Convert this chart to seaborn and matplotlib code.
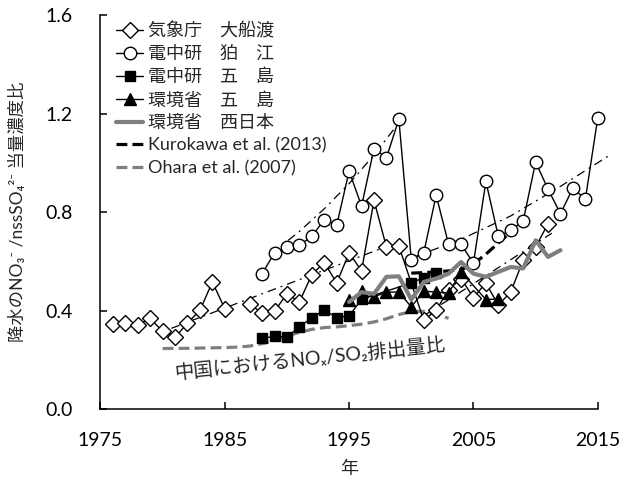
import numpy as np
import pandas as pd
import matplotlib
matplotlib.use("Agg")
import matplotlib.pyplot as plt
import seaborn as sns
from matplotlib.lines import Line2D

sns.set_theme(style="ticks")
plt.rcParams['font.family'] = ['Lato', 'Noto Sans CJK JP', 'DejaVu Sans']

# ---- observations -------------------------------------------------------
# 気象庁 大船渡 (no data for 1986 and 2000)
ofunato_years = [1976, 1977, 1978, 1979, 1980, 1981, 1982, 1983, 1984, 1985,
                 1987, 1988, 1989, 1990, 1991, 1992, 1993, 1994, 1995, 1996,
                 1997, 1998, 1999, 2001, 2002, 2003, 2004, 2005, 2006, 2007,
                 2008, 2009, 2010, 2011]
ofunato_vals = [0.346, 0.351, 0.342, 0.369, 0.317, 0.292, 0.351, 0.402, 0.517, 0.409,
                0.426, 0.392, 0.398, 0.470, 0.436, 0.547, 0.596, 0.513, 0.635, 0.562,
                0.848, 0.659, 0.663, 0.362, 0.402, 0.486, 0.531, 0.454, 0.513, 0.423,
                0.477, 0.605, 0.659, 0.754]
ofunato_seg = [0] * 10 + [1] * 24

# 電中研 狛江
komae_years = list(range(1988, 2016))
komae_vals = [0.551, 0.635, 0.659, 0.666, 0.702, 0.770, 0.747, 0.967, 0.825, 1.058,
              1.021, 1.177, 0.608, 0.635, 0.869, 0.670, 0.670, 0.594, 0.925, 0.702,
              0.727, 0.764, 1.004, 0.893, 0.794, 0.898, 0.852, 1.184]

# 電中研 五島
goto_criepi_years = [1988, 1989, 1990, 1991, 1992, 1993, 1994, 1995, 1996, 2000, 2001, 2002]
goto_criepi_vals = [0.288, 0.297, 0.294, 0.335, 0.372, 0.403, 0.373, 0.379, 0.447,
                    0.513, 0.535, 0.552]

# 環境省 五島
goto_moe_years = [1995, 1996, 1997, 1998, 1999, 2000, 2001, 2002, 2003, 2004, 2006, 2007]
goto_moe_vals = [0.443, 0.480, 0.457, 0.476, 0.476, 0.416, 0.480, 0.476, 0.472, 0.558,
                 0.446, 0.448]

# 環境省 西日本
west_years = list(range(1995, 2013))
west_vals = [0.436, 0.476, 0.469, 0.538, 0.540, 0.446, 0.517, 0.531, 0.551, 0.598,
             0.551, 0.538, 0.558, 0.578, 0.572, 0.686, 0.619, 0.646]

# 中国の NOx/SO2 排出量比
kurokawa_years = [2000, 2001, 2002, 2003, 2004, 2005, 2006, 2007, 2008]
kurokawa_vals = [0.553, 0.555, 0.558, 0.562, 0.567, 0.590, 0.630, 0.675, 0.720]

ohara_years = list(range(1980, 2004))
ohara_vals = [0.247, 0.248, 0.248, 0.249, 0.250, 0.251, 0.253, 0.257, 0.267, 0.280,
              0.298, 0.313, 0.325, 0.332, 0.335, 0.340, 0.346, 0.355, 0.368, 0.385,
              0.397, 0.398, 0.385, 0.370]

# ---- trend lines ---------------------------------------------------------
trend_komae1_years = [1988.8, 1991, 1993, 1995, 1997, 1999]
trend_komae1_vals = [0.634, 0.722, 0.814, 0.916, 1.032, 1.163]
trend_komae2_years = [2000, 2004, 2008, 2012, 2016.1]
trend_komae2_vals = [0.614, 0.690, 0.785, 0.905, 1.036]
trend_ofunato1_years = [1980.7, 1999]
trend_ofunato1_vals = [0.329, 0.680]
trend_ofunato2_years = [2001, 2011.3]
trend_ofunato2_vals = [0.380, 0.715]

x_ticks = [1975, 1985, 1995, 2005, 2015]
y_ticks = [0.0, 0.4, 0.8, 1.2, 1.6]

legend_labels = ['気象庁\u3000大船渡', '電中研\u3000狛\u3000江', '電中研\u3000五\u3000島',
                 '環境省\u3000五\u3000島', '環境省\u3000西日本',
                 'Kurokawa et al. (2013)', 'Ohara et al. (2007)']

fig = plt.figure(figsize=(6.24, 4.84), dpi=100)
ax = fig.add_axes([0.161, 0.154, 0.797, 0.815])

GREY = '#7f7f7f'
DASHDOT = (0, (7, 4, 1.5, 4))
DASHED = (0, (3.4, 1.6))


def draw(years, vals, units=None, **kw):
    df = pd.DataFrame({'year': years, 'val': vals,
                       'unit': units if units is not None else [0] * len(years)})
    sns.lineplot(data=df, x='year', y='val', units='unit', estimator=None,
                 ax=ax, legend=False, **kw)


# trend lines
for ty, tv in [(trend_komae1_years, trend_komae1_vals),
               (trend_komae2_years, trend_komae2_vals),
               (trend_ofunato1_years, trend_ofunato1_vals),
               (trend_ofunato2_years, trend_ofunato2_vals)]:
    draw(ty, tv, color='black', linewidth=0.9, linestyle=DASHDOT, clip_on=False, zorder=2)

draw(ohara_years, ohara_vals, color=GREY, linewidth=2.3, linestyle=DASHED, zorder=3)
draw(kurokawa_years, kurokawa_vals, color='black', linewidth=2.3, linestyle=DASHED, zorder=3)

draw(ofunato_years, ofunato_vals, ofunato_seg, color='black', linewidth=1.0, marker='D',
     markersize=7.8, markerfacecolor='white', markeredgecolor='black',
     markeredgewidth=1.0, zorder=4)
draw(komae_years, komae_vals, color='black', linewidth=1.0, marker='o',
     markersize=9, markerfacecolor='white', markeredgecolor='black',
     markeredgewidth=1.0, clip_on=False, zorder=4)
draw(goto_criepi_years, goto_criepi_vals, color='black', linewidth=1.0, marker='s',
     markersize=7, markerfacecolor='black', markeredgecolor='black',
     markeredgewidth=1.0, zorder=5)
draw(goto_moe_years, goto_moe_vals, color='black', linewidth=1.0, marker='^',
     markersize=9, markerfacecolor='black', markeredgecolor='black',
     markeredgewidth=1.0, zorder=5)
draw(west_years, west_vals, color=GREY, linewidth=3.0, zorder=6)

ax.set_xlim(1975, 2015)
ax.set_ylim(0, 1.6)
ax.set_xticks(x_ticks)
ax.set_yticks(y_ticks)
ax.set_yticklabels([f'{v:.1f}' for v in y_ticks])
ax.tick_params(direction='in', length=5, width=1.1, labelsize=14, colors='black')
ax.tick_params(axis='y', pad=20)
ax.tick_params(axis='x', pad=16)
for s in ['top', 'right']:
    ax.spines[s].set_visible(False)
for s in ['left', 'bottom']:
    ax.spines[s].set_linewidth(1.1)
    ax.spines[s].set_color('black')

ax.set_xlabel('年', fontsize=13, labelpad=9)
ax.set_ylabel('降水のNO₃⁻ /nssSO₄²⁻ 当量濃度比', fontsize=12.5, labelpad=14)

ax.text(1991.85, 0.208, '中国におけるNOₓ/SO₂排出量比', rotation=6,
        rotation_mode='anchor', ha='center', va='center', fontsize=14)

handles = [
    Line2D([], [], color='black', lw=1.0, marker='D', ms=7.8, mfc='white', mec='black'),
    Line2D([], [], color='black', lw=1.0, marker='o', ms=9, mfc='white', mec='black'),
    Line2D([], [], color='black', lw=1.0, marker='s', ms=7, mfc='black', mec='black'),
    Line2D([], [], color='black', lw=1.0, marker='^', ms=9, mfc='black', mec='black'),
    Line2D([], [], color=GREY, lw=3.0),
    Line2D([], [], color='black', lw=2.3, ls=DASHED),
    Line2D([], [], color=GREY, lw=2.3, ls=DASHED),
]
ax.legend(handles, legend_labels, loc='upper left', bbox_to_anchor=(0.017, 1.0),
          frameon=False, fontsize=13, handlelength=1.5, handletextpad=0.25,
          labelspacing=0.36, borderaxespad=0.0)

fig.savefig('out.png', dpi=100)
